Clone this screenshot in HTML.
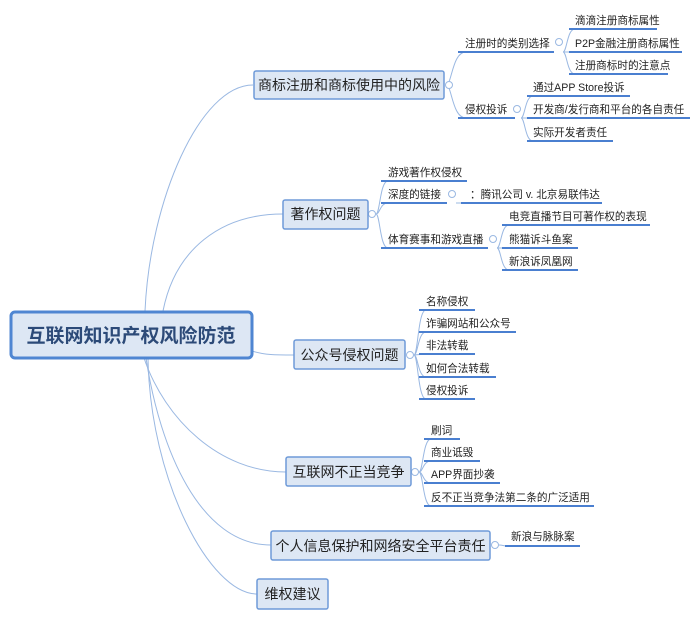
<!DOCTYPE html>
<html><head><meta charset="utf-8"><style>
html,body{margin:0;padding:0;background:#fff;}
svg text{font-family:"Liberation Sans","Noto Sans CJK SC",sans-serif;fill:#222;}
</style></head><body>
<svg width="700" height="619" viewBox="0 0 700 619" xmlns="http://www.w3.org/2000/svg">
<g fill="none" stroke="#9ab8e2" stroke-width="1">
<path d="M145,311 C150,200 200,85 253,85"/>
<path d="M163,311 C175,250 220,214 283,214"/>
<path d="M252,351 C265,355 275,355 294,355"/>
<path d="M144,358 C165,420 220,472 286,472"/>
<path d="M146,358 C160,450 200,545 271,545"/>
<path d="M148,358 C150,480 210,594 257,594"/>
<path d="M446,85 C452,85 452,52 466,52"/>
<path d="M446,85 C452,85 452,118 466,118"/>
<path d="M563,52 C567,52 567,29 575,29"/>
<path d="M563,52 L575,52"/>
<path d="M563,52 C567,52 567,74 575,74"/>
<path d="M521,118 C525,118 525,96 533,96"/>
<path d="M521,118 L533,118"/>
<path d="M521,118 C525,118 525,141 533,141"/>
<path d="M376,214 C380,214 380,181 388,181"/>
<path d="M376,214 C380,214 380,203 388,203"/>
<path d="M376,214 C380,214 380,248 388,248"/>
<path d="M456,203 L468,203"/>
<path d="M497,248 C501,248 501,225 509,225"/>
<path d="M497,248 L509,248"/>
<path d="M497,248 C501,248 501,270 509,270"/>
<path d="M414,355 C418,355 418,310 426,310"/>
<path d="M414,355 C418,355 418,332 426,332"/>
<path d="M414,355 L426,354"/>
<path d="M414,355 C418,355 418,377 426,377"/>
<path d="M414,355 C418,355 418,399 426,399"/>
<path d="M419,472 C423,472 423,439 431,439"/>
<path d="M419,472 C423,472 423,461 431,461"/>
<path d="M419,472 C423,472 423,483 431,483"/>
<path d="M419,472 C423,472 423,506 431,506"/>
<path d="M499,545 C503,545 503,546 507,546"/>
</g>
<g stroke="#4a7fd0" stroke-width="2">
<line x1="458" y1="52" x2="554" y2="52"/>
<line x1="458" y1="118" x2="515" y2="118"/>
<line x1="569" y1="29" x2="657" y2="29"/>
<line x1="569" y1="52" x2="682" y2="52"/>
<line x1="569" y1="74" x2="668" y2="74"/>
<line x1="527" y1="96" x2="630" y2="96"/>
<line x1="527" y1="118" x2="690" y2="118"/>
<line x1="527" y1="141" x2="613" y2="141"/>
<line x1="381" y1="181" x2="467" y2="181"/>
<line x1="381" y1="203" x2="447" y2="203"/>
<line x1="461" y1="203" x2="602" y2="203"/>
<line x1="381" y1="248" x2="488" y2="248"/>
<line x1="502" y1="225" x2="650" y2="225"/>
<line x1="502" y1="248" x2="578" y2="248"/>
<line x1="502" y1="270" x2="578" y2="270"/>
<line x1="419" y1="310" x2="475" y2="310"/>
<line x1="419" y1="332" x2="516" y2="332"/>
<line x1="419" y1="354" x2="475" y2="354"/>
<line x1="419" y1="377" x2="496" y2="377"/>
<line x1="419" y1="399" x2="475" y2="399"/>
<line x1="424" y1="439" x2="460" y2="439"/>
<line x1="424" y1="461" x2="480" y2="461"/>
<line x1="424" y1="483" x2="500" y2="483"/>
<line x1="424" y1="506" x2="594" y2="506"/>
<line x1="505" y1="546" x2="580" y2="546"/>
</g>
<g fill="#fff" stroke="#9ab8e2" stroke-width="1">
<circle cx="449" cy="85" r="3.5"/><circle cx="559" cy="42" r="3.5"/><circle cx="517" cy="109" r="3.5"/>
<circle cx="372" cy="214" r="3.5"/><circle cx="452" cy="194" r="3.5"/><circle cx="493" cy="239" r="3.5"/>
<circle cx="410" cy="355" r="3.5"/><circle cx="415" cy="472" r="3.5"/><circle cx="495" cy="545" r="3.5"/>
</g>
<rect x="11" y="312" width="241" height="46" rx="4" fill="#dde7f4" stroke="#4f86d2" stroke-width="3"/>
<text x="131" y="342" text-anchor="middle" font-size="19" font-weight="bold" style="fill:#2c4a78">互联网知识产权风险防范</text>
<g fill="#dde7f4" stroke="#6e9ad8" stroke-width="1.5">
<rect x="254" y="71" width="190" height="28" rx="2"/>
<rect x="283" y="200" width="85" height="29" rx="2"/>
<rect x="294" y="340" width="111" height="29" rx="2"/>
<rect x="286" y="457" width="125" height="29" rx="2"/>
<rect x="271" y="531" width="219" height="29" rx="2"/>
<rect x="257" y="579" width="71" height="30" rx="2"/>
</g>
<g font-size="14" text-anchor="middle">
<text x="349" y="90">商标注册和商标使用中的风险</text>
<text x="325.5" y="219">著作权问题</text>
<text x="349.5" y="360">公众号侵权问题</text>
<text x="348.5" y="477">互联网不正当竞争</text>
<text x="380.5" y="551">个人信息保护和网络安全平台责任</text>
<text x="292.5" y="599">维权建议</text>
</g>
<g font-size="10.6">
<text x="465" y="47">注册时的类别选择</text>
<text x="465" y="113">侵权投诉</text>
<text x="575" y="24">滴滴注册商标属性</text>
<text x="575" y="47">P2P金融注册商标属性</text>
<text x="575" y="69">注册商标时的注意点</text>
<text x="533" y="91">通过APP Store投诉</text>
<text x="533" y="113">开发商/发行商和平台的各自责任</text>
<text x="533" y="136">实际开发者责任</text>
<text x="388" y="176">游戏著作权侵权</text>
<text x="388" y="198">深度的链接</text>
<text x="470" y="198">：腾讯公司 v. 北京易联伟达</text>
<text x="388" y="243">体育赛事和游戏直播</text>
<text x="509" y="220">电竞直播节目可著作权的表现</text>
<text x="509" y="243">熊猫诉斗鱼案</text>
<text x="509" y="265">新浪诉凤凰网</text>
<text x="426" y="305">名称侵权</text>
<text x="426" y="327">诈骗网站和公众号</text>
<text x="426" y="349">非法转载</text>
<text x="426" y="372">如何合法转载</text>
<text x="426" y="394">侵权投诉</text>
<text x="431" y="434">刷词</text>
<text x="431" y="456">商业诋毁</text>
<text x="431" y="478">APP界面抄袭</text>
<text x="431" y="501">反不正当竞争法第二条的广泛适用</text>
<text x="511" y="540">新浪与脉脉案</text>
</g>
</svg>
</body></html>
